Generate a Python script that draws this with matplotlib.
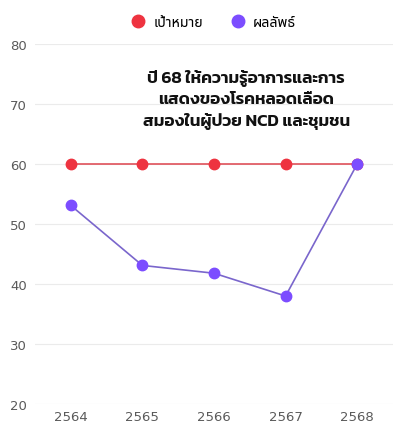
import matplotlib
matplotlib.use("Agg")
import matplotlib.pyplot as plt
from matplotlib.lines import Line2D

years = ["2564", "2565", "2566", "2567", "2568"]
target = [60, 60, 60, 60, 60]
result = [53.1, 43.1, 41.8, 38.0, 60]
series_names = ["เป้าหมาย", "ผลลัพธ์"]
note = "ปี 68 ให้ความรู้อาการและการ\nแสดงของโรคหลอดเลือด\nสมองในผู้ป่วย NCD และชุมชน"

red = "#ee3340"
purple = "#7c4dff"

fig = plt.figure(figsize=(3.93, 4.27), dpi=100)
ax = fig.add_axes([0.089, 0.0515, 0.911, 0.843])

x = range(len(years))
ax.plot(x, target, color="#e0525a", linewidth=1.2, marker="o", markersize=7.5,
        markerfacecolor=red, markeredgecolor=red, zorder=3)
ax.plot(x, result, color="#7a66cc", linewidth=1.2, marker="o", markersize=7.5,
        markerfacecolor=purple, markeredgecolor=purple, zorder=4)

ax.set_xlim(-0.5, len(years) - 0.5)
ax.set_ylim(20, 80)
ax.set_yticks(range(20, 81, 10))
ax.set_xticks(list(x))
ax.set_xticklabels(years)
ax.grid(axis="y", color="#ebebeb", linewidth=0.8)
ax.set_axisbelow(True)
for s in ax.spines.values():
    s.set_visible(False)
ax.tick_params(length=0, labelsize=9.5, labelcolor="#5a5a5a")
ax.tick_params(axis="x", pad=4)
ax.tick_params(axis="y", pad=6)

# กล่องข้อความกลางกราฟ
ax.text(2.45, 70.8, note, ha="center", va="center", fontsize=12.3,
        family="Kanit", fontweight="semibold", color="#111111", linespacing=1.5)

handles = [Line2D([], [], linestyle="none", marker="o", markersize=9,
                  markerfacecolor=c, markeredgecolor=c) for c in (red, purple)]
fig.legend(handles, series_names, loc="upper center", bbox_to_anchor=(0.535, 0.995),
           ncol=2, frameon=False, handletextpad=0.1, columnspacing=1.4,
           prop={"family": "Noto Sans Thai UI", "size": 10.2})

fig.savefig("out.png")
